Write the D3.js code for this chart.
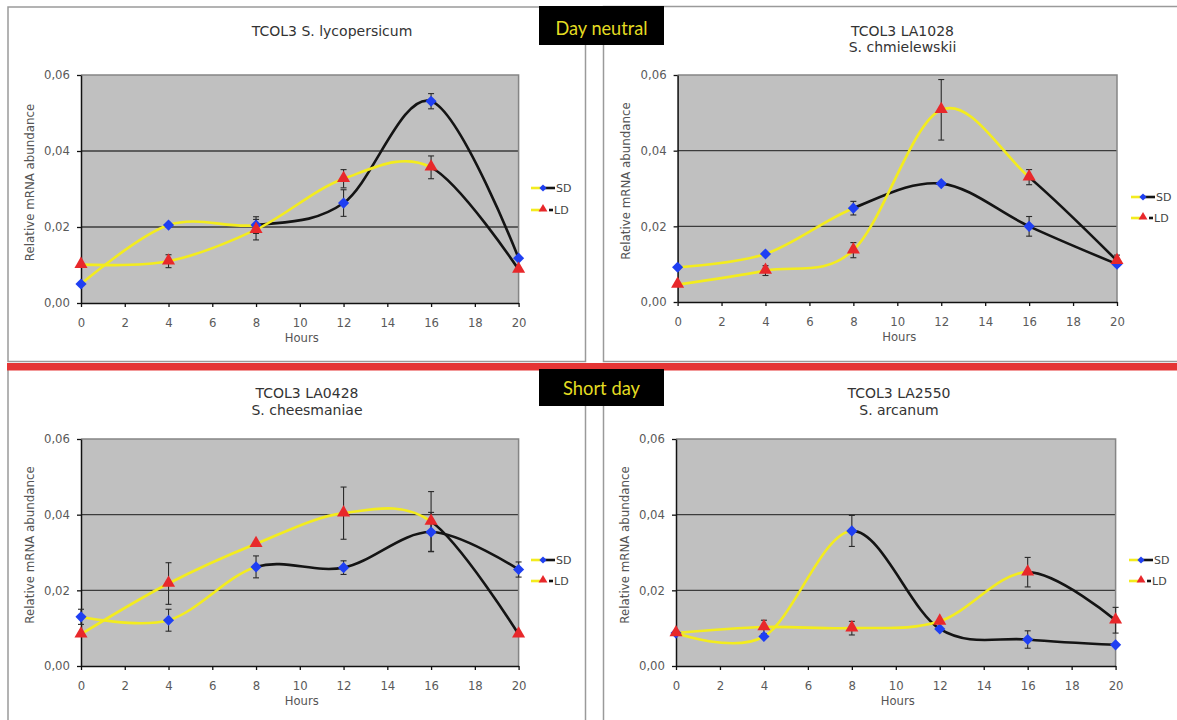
<!DOCTYPE html>
<html>
<head>
<meta charset="utf-8">
<script src="https://cdn.jsdelivr.net/npm/d3@7"></script>
<style>
  html, body { margin: 0; padding: 0; background: #fff; }
  svg { display: block; }
</style>
</head>
<body>
<svg id="chart" width="1177" height="720"></svg>
<script>
// Sampling times (hours) and axis ticks
const hours = [0, 4, 8, 12, 16, 20];
const xTicks = [0, 2, 4, 6, 8, 10, 12, 14, 16, 18, 20];
const yTicks = [0, 0.02, 0.04, 0.06];
const seriesNames = ["SD", "LD"];

// TCOL3 in S. lycopersicum
const lycoSD    = [0.0050, 0.0205, 0.0205, 0.0263, 0.0531, 0.0118];
const lycoSDErr = [0, 0, 0.0022, 0.0035, 0.0020, 0];
const lycoLD    = [0.0101, 0.0110, 0.0193, 0.0327, 0.0357, 0.0088];
const lycoLDErr = [0, 0.0017, 0.0027, 0.0024, 0.0030, 0];

// TCOL3 in LA1028, S. chmielewskii
const chmSD    = [0.0092, 0.0127, 0.0248, 0.0313, 0.0200, 0.0100];
const chmSDErr = [0, 0, 0.0018, 0, 0.0026, 0];
const chmLD    = [0.0046, 0.0083, 0.0137, 0.0508, 0.0330, 0.0109];
const chmLDErr = [0, 0.0013, 0.0020, 0.0080, 0.0020, 0.0015];

// TCOL3 in LA0428, S. cheesmaniae
const cheSD    = [0.0130, 0.0121, 0.0262, 0.0260, 0.0354, 0.0255];
const cheSDErr = [0.0020, 0.0029, 0.0029, 0.0018, 0.0052, 0.0020];
const cheLD    = [0.0084, 0.0218, 0.0323, 0.0404, 0.0382, 0.0084];
const cheLDErr = [0, 0.0055, 0, 0.0069, 0.0079, 0];

// TCOL3 in LA2550, S. arcanum
const arcSD    = [0.0087, 0.0078, 0.0357, 0.0098, 0.0070, 0.0056];
const arcSDErr = [0, 0, 0.0041, 0, 0.0023, 0];
const arcLD    = [0.0087, 0.0103, 0.0100, 0.0118, 0.0248, 0.0121];
const arcLDErr = [0, 0.0018, 0.0018, 0, 0.0039, 0.0034];

const titles = [
  ["TCOL3 S. lycopersicum"],
  ["TCOL3 LA1028", "S. chmielewskii"],
  ["TCOL3 LA0428", "S. cheesmaniae"],
  ["TCOL3 LA2550", "S. arcanum"]
];
const groupLabels = ["Day neutral", "Short day"];

// ---- styling & layout ----
const YELLOW = "#f3ec1e", BLACK = "#141414";
const BLUE = "#1f3ff2", RED = "#e8282b";
const FONT = "'DejaVu Sans', Verdana, sans-serif";
const svg = d3.select("#chart");
const defs = svg.append("defs");

// comma as decimal separator
const locale = d3.formatLocale({decimal: ",", thousands: ".", grouping: [3], currency: ["", ""]});
const fmtY = locale.format(".2f");

const layouts = [
  {left: 81,  right: 518.6, top: 75,  bottom: 303, titleX: 332, titleY: [31],         ylX: 30,  ylY: 182.5, legX: 531,  legY: [188, 210]},
  {left: 677.6, right: 1117, top: 75, bottom: 302, titleX: 902.5, titleY: [30.7, 46.7], ylX: 626, ylY: 181, legX: 1131, legY: [197, 218]},
  {left: 81,  right: 518.6, top: 439, bottom: 666, titleX: 307, titleY: [393.3, 410], ylX: 30,  ylY: 545,   legX: 531,  legY: [560, 581]},
  {left: 676, right: 1115.6, top: 439, bottom: 666, titleX: 899, titleY: [393.3, 410], ylX: 624.5, ylY: 545, legX: 1129, legY: [560, 581]}
];

const panelData = [
  {sd: lycoSD, sdErr: lycoSDErr, ld: lycoLD, ldErr: lycoLDErr},
  {sd: chmSD,  sdErr: chmSDErr,  ld: chmLD,  ldErr: chmLDErr},
  {sd: cheSD,  sdErr: cheSDErr,  ld: cheLD,  ldErr: cheLDErr},
  {sd: arcSD,  sdErr: arcSDErr,  ld: arcLD,  ldErr: arcLDErr}
];

// hour at which each series' line switches from yellow to black
const colourSwitch = {SD: 8, LD: 16};

// ---- panel frames ----
const frames = [
  {x: 8, y: 7, w: 577.5, h: 354.5},
  {x: 603.5, y: 6.5, w: 600, h: 355},
  {x: 8, y: 366, w: 577.5, h: 400},
  {x: 603.5, y: 366, w: 600, h: 400}
];
svg.selectAll("rect.frame").data(frames).join("rect")
  .attr("class", "frame")
  .attr("x", d => d.x).attr("y", d => d.y)
  .attr("width", d => d.w).attr("height", d => d.h)
  .attr("fill", "#fff").attr("stroke", "#9a9a9a").attr("stroke-width", 1.5);

function drawPanel(idx) {
  const L = layouts[idx], D = panelData[idx];
  const g = svg.append("g");
  const x = d3.scaleLinear().domain([0, 20]).range([L.left, L.right]);
  const y = d3.scaleLinear().domain([0, 0.06]).range([L.bottom, L.top]);

  // plot area
  g.append("rect")
    .attr("x", x(0)).attr("y", y(0.06))
    .attr("width", x(20) - x(0)).attr("height", y(0) - y(0.06))
    .attr("fill", "#c0c0c0");
  // inner gridlines
  g.selectAll("line.grid").data(yTicks.filter(v => v > 0 && v < 0.06)).join("line")
    .attr("x1", x(0)).attr("x2", x(20))
    .attr("y1", d => y(d)).attr("y2", d => y(d))
    .attr("stroke", "#3c3c3c").attr("stroke-width", 1.3);
  // top and right edges of plot area
  g.append("path")
    .attr("d", `M${x(0)},${y(0.06)}H${x(20)}V${y(0)}`)
    .attr("fill", "none").attr("stroke", "#858585").attr("stroke-width", 1.5);

  // axes
  const ax = g.append("g").attr("transform", `translate(0,${y(0)})`)
    .call(d3.axisBottom(x).tickValues(xTicks).tickSize(4).tickSizeOuter(0).tickPadding(12).tickFormat(d3.format("d")));
  const ay = g.append("g").attr("transform", `translate(${x(0)},0)`)
    .call(d3.axisLeft(y).tickValues(yTicks).tickSize(4).tickSizeOuter(0).tickPadding(7).tickFormat(fmtY));
  [ax, ay].forEach(a => {
    a.select(".domain").attr("stroke", "#111").attr("stroke-width", 1.5);
    a.selectAll(".tick line").attr("stroke", "#111").attr("stroke-width", 1.3);
    a.selectAll(".tick text").attr("fill", "#5a5a5a").attr("font-family", FONT).attr("font-size", 11.7);
  });

  // axis titles
  g.append("text")
    .attr("x", (x(0) + x(20)) / 2 + 2).attr("y", y(0) + 39)
    .attr("text-anchor", "middle").attr("font-family", FONT).attr("font-size", 11.6)
    .attr("fill", "#555").text("Hours");
  g.append("text")
    .attr("transform", `translate(${L.ylX + 4},${L.ylY}) rotate(-90)`)
    .attr("text-anchor", "middle").attr("font-family", FONT).attr("font-size", 11.8)
    .attr("fill", "#555").text("Relative mRNA abundance");

  // chart title
  titles[idx].forEach((t, i) => {
    g.append("text")
      .attr("x", L.titleX).attr("y", L.titleY[i] + 5)
      .attr("text-anchor", "middle").attr("font-family", FONT).attr("font-size", 14)
      .attr("fill", "#333").text(t);
  });

  // clip regions splitting each line into its yellow and black parts
  const clipFor = (name, part) => {
    const id = `clip-${idx}-${name}-${part}`;
    const xs = x(colourSwitch[name]);
    const r = defs.append("clipPath").attr("id", id).append("rect")
      .attr("y", L.top - 60).attr("height", L.bottom - L.top + 120);
    if (part === "y") r.attr("x", L.left - 20).attr("width", xs - L.left + 20);
    else r.attr("x", xs).attr("width", L.right - xs + 20);
    return `url(#${id})`;
  };

  const line = d3.line().x(d => x(d[0])).y(d => y(d[1])).curve(d3.curveCardinal.tension(0));
  const series = [
    {name: "SD", values: D.sd, err: D.sdErr},
    {name: "LD", values: D.ld, err: D.ldErr}
  ];

  series.forEach(s => {
    const pts = hours.map((h, i) => [h, s.values[i]]);
    g.append("path").attr("d", line(pts)).attr("fill", "none")
      .attr("stroke", YELLOW).attr("stroke-width", 2.6).attr("clip-path", clipFor(s.name, "y"));
    g.append("path").attr("d", line(pts)).attr("fill", "none")
      .attr("stroke", BLACK).attr("stroke-width", 2.6).attr("clip-path", clipFor(s.name, "b"));
  });

  series.forEach(s => {
    const eb = hours.map((h, i) => ({h, v: s.values[i], e: s.err[i]})).filter(d => d.e > 0);
    const eg = g.append("g").attr("stroke", "#2a2a2a").attr("stroke-width", 1.1);
    eg.selectAll("line.v").data(eb).join("line")
      .attr("x1", d => x(d.h)).attr("x2", d => x(d.h))
      .attr("y1", d => y(d.v - d.e)).attr("y2", d => y(d.v + d.e));
    eg.selectAll("line.t").data(eb).join("line")
      .attr("x1", d => x(d.h) - 3).attr("x2", d => x(d.h) + 3)
      .attr("y1", d => y(d.v + d.e)).attr("y2", d => y(d.v + d.e));
    eg.selectAll("line.b").data(eb).join("line")
      .attr("x1", d => x(d.h) - 3).attr("x2", d => x(d.h) + 3)
      .attr("y1", d => y(d.v - d.e)).attr("y2", d => y(d.v - d.e));
  });

  const diamond = d3.symbol().type(d3.symbolSquare).size(62);
  const triangle = d3.symbol().type(d3.symbolTriangle).size(74);
  g.selectAll("path.sd").data(hours.map((h, i) => [h, D.sd[i]])).join("path")
    .attr("d", diamond).attr("fill", BLUE)
    .attr("transform", d => `translate(${x(d[0])},${y(d[1])}) rotate(45)`);
  g.selectAll("path.ld").data(hours.map((h, i) => [h, D.ld[i]])).join("path")
    .attr("d", triangle).attr("fill", RED)
    .attr("transform", d => `translate(${x(d[0])},${y(d[1]) - 0.5})`);

  // legend
  const lg = g.append("g").attr("font-family", FONT).attr("font-size", 11).attr("fill", "#444");
  const lx = L.legX;
  // SD
  lg.append("line").attr("x1", lx).attr("x2", lx + 11).attr("y1", L.legY[0]).attr("y2", L.legY[0])
    .attr("stroke", YELLOW).attr("stroke-width", 2.6);
  lg.append("line").attr("x1", lx + 12).attr("x2", lx + 24).attr("y1", L.legY[0]).attr("y2", L.legY[0])
    .attr("stroke", BLACK).attr("stroke-width", 2.6);
  lg.append("path").attr("d", d3.symbol().type(d3.symbolSquare).size(26))
    .attr("fill", BLUE).attr("transform", `translate(${lx + 12},${L.legY[0]}) rotate(45)`);
  lg.append("text").attr("x", lx + 25).attr("y", L.legY[0] + 4).text(seriesNames[0]);
  // LD
  lg.append("line").attr("x1", lx).attr("x2", lx + 10).attr("y1", L.legY[1]).attr("y2", L.legY[1])
    .attr("stroke", YELLOW).attr("stroke-width", 2.6);
  lg.append("line").attr("x1", lx + 18).attr("x2", lx + 22).attr("y1", L.legY[1]).attr("y2", L.legY[1])
    .attr("stroke", BLACK).attr("stroke-width", 2.6);
  lg.append("path").attr("d", d3.symbol().type(d3.symbolTriangle).size(34))
    .attr("fill", RED).attr("transform", `translate(${lx + 12},${L.legY[1] - 1})`);
  lg.append("text").attr("x", lx + 23).attr("y", L.legY[1] + 4).text(seriesNames[1]);
}

[0, 1, 2, 3].forEach(drawPanel);

// separator between the two day-length groups
svg.append("rect").attr("x", 7).attr("y", 363).attr("width", 1170).attr("height", 7.5).attr("fill", "#e53535");

// group labels
const boxes = [
  {label: groupLabels[0], y: 6, h: 39, base: 34.5, len: 92},
  {label: groupLabels[1], y: 369, h: 37, base: 395, len: 77}
];
boxes.forEach(b => {
  svg.append("rect").attr("x", 539).attr("y", b.y).attr("width", 125).attr("height", b.h).attr("fill", "#000");
  svg.append("text").attr("x", 601.5).attr("y", b.base)
    .attr("text-anchor", "middle").attr("font-family", "Lato, 'Open Sans', sans-serif").attr("font-size", 19)
    .attr("textLength", b.len).attr("lengthAdjust", "spacingAndGlyphs")
    .attr("fill", "#e4dc22").text(b.label);
});
</script>
</body>
</html>
